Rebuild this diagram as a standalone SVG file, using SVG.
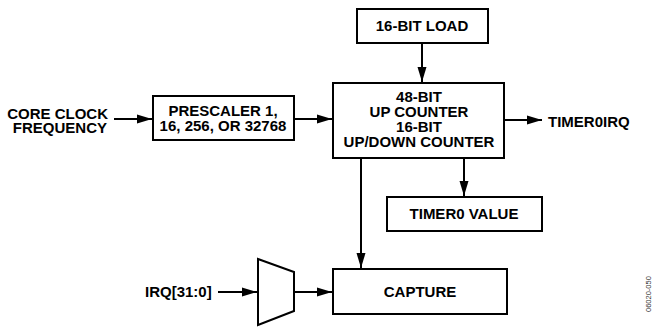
<svg xmlns="http://www.w3.org/2000/svg" width="652" height="327" viewBox="0 0 652 327">
<style>
.box{fill:#fff;stroke:#000;stroke-width:2}
.t{font-family:"Liberation Sans",Arial,sans-serif;font-weight:bold;font-size:15px;fill:#000}
.c{text-anchor:middle}
.ln{stroke:#000;stroke-width:2;fill:none}
.side{font-family:"Liberation Sans",Arial,sans-serif;font-size:7.5px;fill:#333}
</style>
<defs>
<marker id="ah" markerUnits="userSpaceOnUse" markerWidth="16" markerHeight="10" refX="15" refY="5" orient="auto">
<path d="M0,0.5 L15,5 L0,9.5 Z" fill="#000"/>
</marker>
</defs>
<rect width="652" height="327" fill="#fff"/>
<g id="connectors">
<line class="ln" x1="114" y1="119" x2="152" y2="119" marker-end="url(#ah)"/>
<line class="ln" x1="294" y1="119" x2="332" y2="119" marker-end="url(#ah)"/>
<line class="ln" x1="422" y1="43" x2="422" y2="82" marker-end="url(#ah)"/>
<line class="ln" x1="504" y1="120" x2="542" y2="120" marker-end="url(#ah)"/>
<line class="ln" x1="464" y1="158" x2="464" y2="196" marker-end="url(#ah)"/>
<line class="ln" x1="361" y1="158" x2="361" y2="268" marker-end="url(#ah)"/>
<line class="ln" x1="218" y1="292" x2="257" y2="292" marker-end="url(#ah)"/>
<line class="ln" x1="294" y1="292" x2="332" y2="292" marker-end="url(#ah)"/>
</g>
<g id="core-clock">
<text class="t" x="108" y="119" text-anchor="end">CORE CLOCK</text>
<text class="t" x="107" y="133" text-anchor="end">FREQUENCY</text>
</g>
<g id="prescaler">
<rect class="box" x="153" y="96" width="141" height="44"/>
<text class="t c" x="223" y="116">PRESCALER 1,</text>
<text class="t c" x="223" y="131">16, 256, OR 32768</text>
</g>
<g id="load">
<rect class="box" x="357" y="9" width="131" height="34"/>
<text class="t c" x="422" y="31">16-BIT LOAD</text>
</g>
<g id="counter">
<rect class="box" x="333" y="83" width="171" height="75"/>
<text class="t c" x="419" y="102">48-BIT</text>
<text class="t c" x="419" y="117">UP COUNTER</text>
<text class="t c" x="419" y="132">16-BIT</text>
<text class="t c" x="419" y="147">UP/DOWN COUNTER</text>
</g>
<g id="timer0irq">
<text class="t" x="548" y="127">TIMER0IRQ</text>
</g>
<g id="timer0value">
<rect class="box" x="387" y="197" width="155" height="34"/>
<text class="t c" x="464" y="219">TIMER0 VALUE</text>
</g>
<g id="irq">
<text class="t" x="145" y="297">IRQ[31:0]</text>
</g>
<g id="mux">
<path class="box" d="M258,259 L294,272 L294,311 L258,325 Z"/>
</g>
<g id="capture">
<rect class="box" x="333" y="269" width="174" height="45"/>
<text class="t c" x="420" y="297">CAPTURE</text>
</g>
<text class="side" transform="translate(651,312) rotate(-90)">06020-050</text>
</svg>
